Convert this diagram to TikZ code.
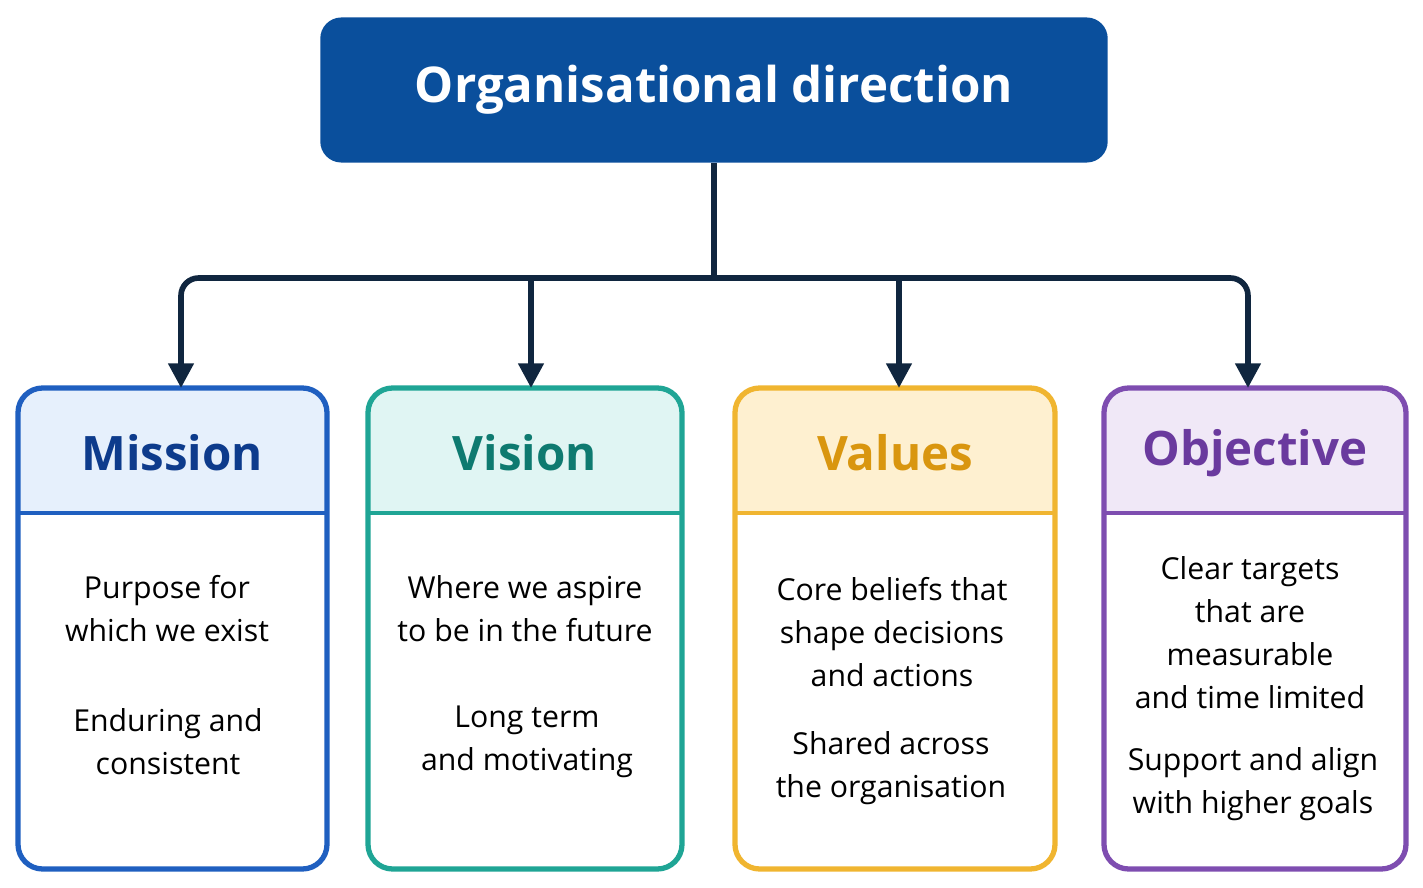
\documentclass[tikz,border=0pt]{standalone}
\usepackage{fontspec}
\setmainfont{Open Sans}
\usetikzlibrary{arrows.meta,positioning}
\definecolor{topblue}{HTML}{0A4F9C}
\definecolor{linkcol}{HTML}{10263F}
\definecolor{misB}{HTML}{1F5FC0}\definecolor{misF}{HTML}{E6F0FC}\definecolor{misT}{HTML}{0D3B8C}
\definecolor{visB}{HTML}{1FA595}\definecolor{visF}{HTML}{E0F5F3}\definecolor{visT}{HTML}{0E7A70}
\definecolor{valB}{HTML}{F0B530}\definecolor{valF}{HTML}{FEF0D0}\definecolor{valT}{HTML}{D9960F}
\definecolor{objB}{HTML}{7E4DB0}\definecolor{objF}{HTML}{F0E8F7}\definecolor{objT}{HTML}{6A3A9E}
\tikzset{
    %Define standard arrow tip
    >={Triangle[length=7pt,width=7pt]},
    % top box
    topbox/.style={rectangle, rounded corners=6pt, fill=topblue, text=white,
           minimum width=7.87cm, minimum height=1.45cm, font=\bfseries\fontsize{14}{16}\selectfont},
    % text of the body
    bodytxt/.style={align=center, font=\fontsize{8.6}{12.2}\selectfont},
    headtxt/.style={font=\bfseries\fontsize{13.5}{15}\selectfont},
    % arrow style
    pil/.style={->, draw=linkcol, line width=1.6pt, rounded corners=5pt}
}
\begin{document}
\begin{tikzpicture}[x=0.01cm,y=-0.01cm]
\useasboundingbox (0,0) rectangle (1423,888);
%nodes
\node[topbox] (top) at (714,90) {Organisational direction};
\coordinate (split) at (714,278);
% boxes: left, right, colour, name, title
\foreach \xa/\xb/\xm/\cl/\n/\ttl in {18/327/172/mis/M/Mission, 368/682/525/vis/V/Vision, 735/1055/895/val/VA/Values, 1104/1406/1255/obj/O/Objective}{
  \begin{scope}
    \clip[rounded corners=7pt] (\xa,388) rectangle (\xb,869);
    \fill[\cl F] (\xa,388) rectangle (\xb,513);
  \end{scope}
  \draw[\cl B, line width=1.3pt] (\xa,513) -- (\xb,513);
  \draw[\cl B, line width=1.5pt, rounded corners=7pt] (\xa,388) rectangle (\xb,869);
  \node[headtxt, text=\cl T] (\n) at (\xm,453) {\ttl};
}
\coordinate (M in) at (181,388);
\coordinate (V in) at (531,388);
\coordinate (VA in) at (899,388);
\coordinate (O in) at (1248,388);
% texts
\node[bodytxt] (mt1) at (167,609) {Purpose for\\which we exist};
\node[bodytxt] (mt2) at (168,742) {Enduring and\\consistent};
\node[bodytxt] (vt1) at (525,609) {Where we aspire\\to be in the future};
\node[bodytxt] (vt2) at (527,742) {Long term\\and motivating};
\node[bodytxt] (at1) at (892,632) {Core beliefs that\\shape decisions\\and actions};
\node[bodytxt] (at2) at (891,768) {Shared across\\the organisation};
\node[bodytxt] (ot1) at (1250,633) {Clear targets\\that are\\measurable\\and time limited};
\node[bodytxt] (ot2) at (1253,784) {Support and align\\with higher goals};
% connectors
\draw[draw=linkcol, line width=1.6pt] (top.south) -- (split);
\draw[pil] (split) -- (M in |- split) -- (M in);
\draw[pil] (split) -- (O in |- split) -- (O in);
\draw[pil] (V in |- split) -- (V in);
\draw[pil] (VA in |- split) -- (VA in);
\end{tikzpicture}
\end{document}
